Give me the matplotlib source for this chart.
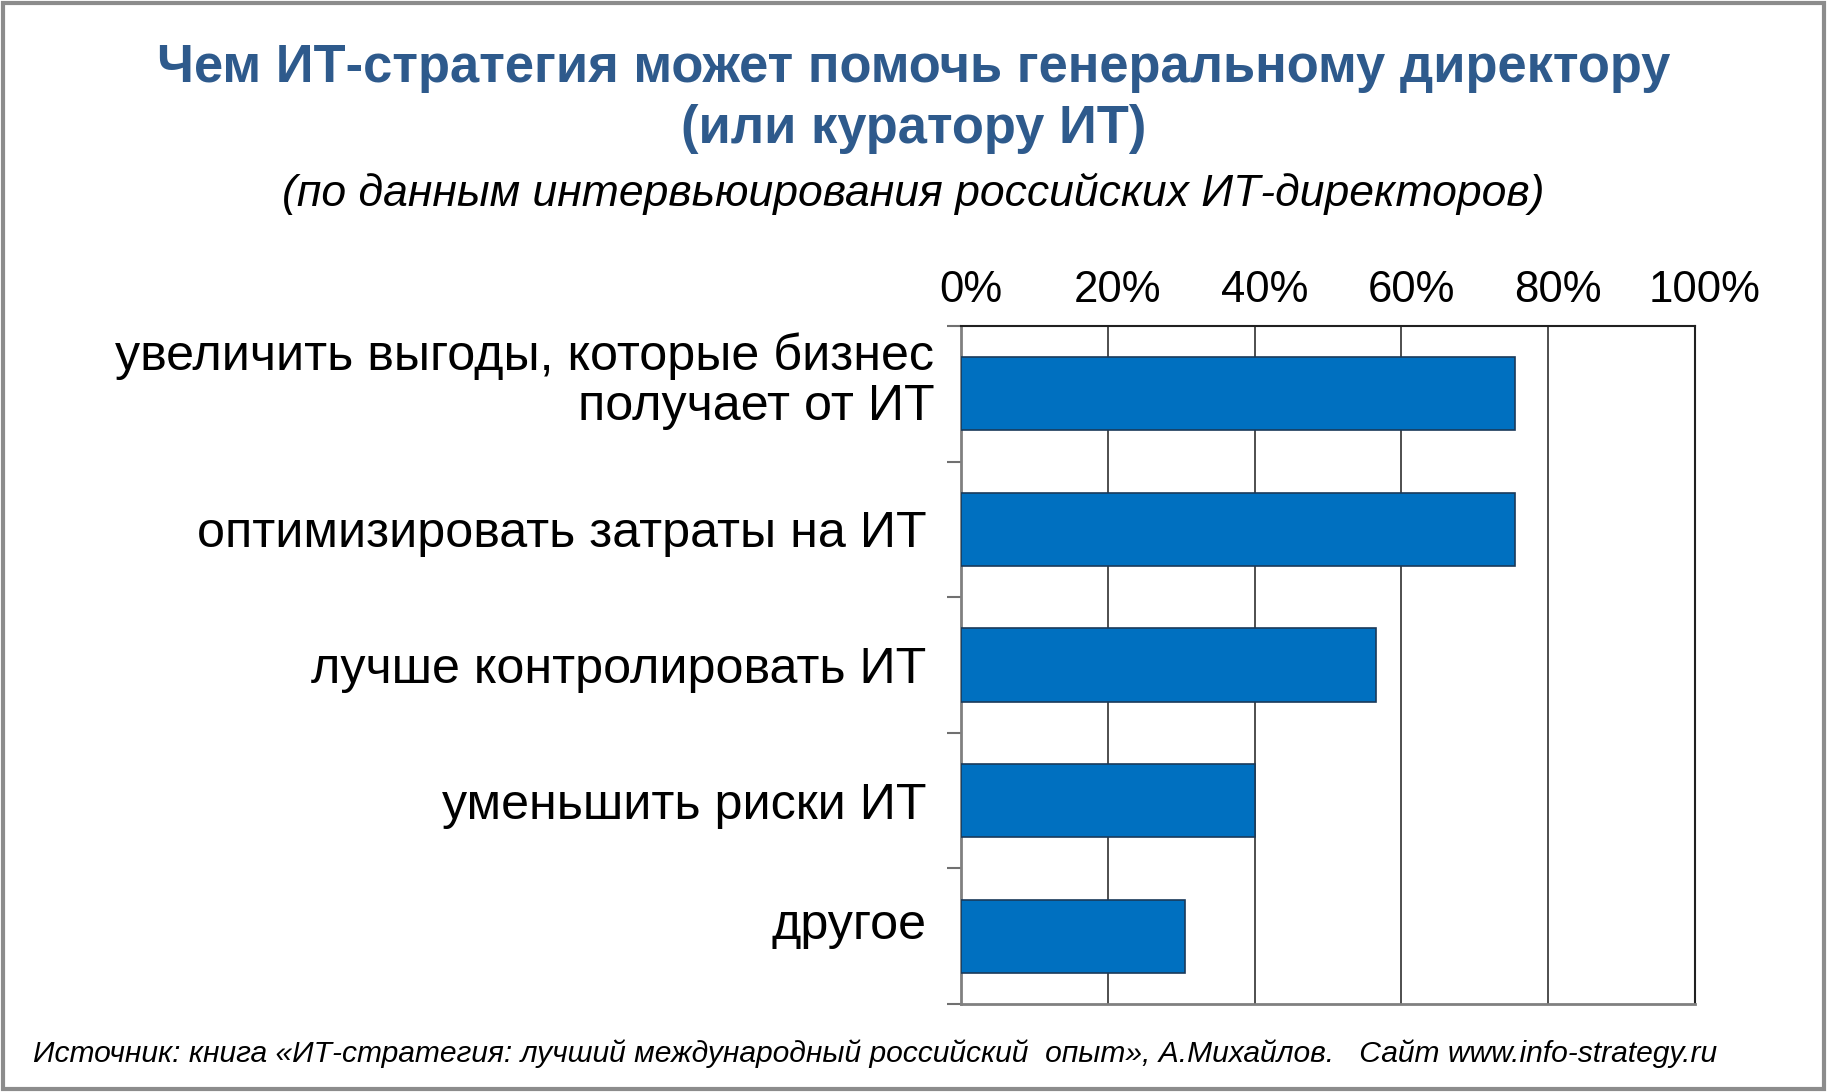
import matplotlib
matplotlib.use("Agg")
import matplotlib.pyplot as plt
import matplotlib.transforms as mtransforms
from matplotlib.patches import Rectangle
import numpy as np

categories = [
    "увеличить выгоды, которые бизнес\nполучает от ИТ",
    "оптимизировать затраты на ИТ",
    "лучше контролировать ИТ",
    "уменьшить риски ИТ",
    "другое",
]
values = [75.5, 75.5, 56.5, 40.0, 30.5]
xticks = [0, 20, 40, 60, 80, 100]
xtick_labels = ["0%", "20%", "40%", "60%", "80%", "100%"]

title = "Чем ИТ-стратегия может помочь генеральному директору\n(или куратору ИТ)"
subtitle = "(по данным интервьюирования российских ИТ-директоров)"
footer = "Источник: книга «ИТ-стратегия: лучший международный российский  опыт», А.Михайлов.   Сайт www.info-strategy.ru"

plt.rcParams['font.family'] = ['Liberation Sans', 'DejaVu Sans']

W, H = 1827, 1092
fig = plt.figure(figsize=(W / 100, H / 100), dpi=100)
fig.patch.set_facecolor("white")

# frame around the picture
fig.add_artist(Rectangle((3 / W, 3 / H), 1 - 6 / W, 1 - 6 / H, transform=fig.transFigure,
                         fill=False, edgecolor="#8c8c8c", linewidth=3))

left, right, top, bottom = 961, 1695, 326, 1004
ax = fig.add_axes([left / W, 1 - bottom / H, (right - left) / W, (bottom - top) / H])

y = np.arange(len(categories))
ax.barh(y, values, height=0.54, color="#0070C0", edgecolor="#1a3a5a", linewidth=1.2, zorder=3)

ax.set_xlim(0, 100)
ax.set_ylim(len(categories) - 0.5, -0.5)

# grid
for xv in xticks[1:-1]:
    ax.axvline(xv, color="#404040", linewidth=1.3, zorder=1)

ax.xaxis.tick_top()
ax.set_xticks(xticks)
ax.set_xticklabels(xtick_labels, fontsize=31.5)
ax.tick_params(axis="x", length=0, pad=11)
offset = mtransforms.ScaledTranslation(10 / 100, 0, fig.dpi_scale_trans)
for lab in ax.get_xticklabels():
    lab.set_transform(lab.get_transform() + offset)

# y ticks at category boundaries, labels at centers
ax.set_yticks(np.arange(-0.5, len(categories), 1.0))
ax.set_yticklabels([])
ax.tick_params(axis="y", which="major", length=10, width=1.5, color="#707070", direction="out")
ax.set_yticks(y, minor=True)
ax.set_yticklabels(categories, minor=True, fontsize=36.2, linespacing=1.13)
ax.tick_params(axis="y", which="minor", length=0, pad=25)
ylabs = ax.get_yticklabels(minor=True)
first_off = mtransforms.ScaledTranslation(8 / 100, 20 / 100, fig.dpi_scale_trans)
ylabs[0].set_transform(ylabs[0].get_transform() + first_off)
last_off = mtransforms.ScaledTranslation(0, 15 / 100, fig.dpi_scale_trans)
ylabs[-1].set_transform(ylabs[-1].get_transform() + last_off)

for s in ["left", "bottom"]:
    ax.spines[s].set_color("#808080")
    ax.spines[s].set_linewidth(2)
for s in ["top", "right"]:
    ax.spines[s].set_color("#202020")
    ax.spines[s].set_linewidth(1.5)

fig.text(0.5, 1 - 98.5 / H, title, ha="center", va="center", fontsize=37.8, fontweight="bold",
         color="#2E5A8C", linespacing=1.3)
fig.text(0.5, 1 - 194 / H, subtitle, ha="center", va="center", fontsize=32, style="italic",
         color="#000000")
fig.text(33 / W, 1 - 1053.5 / H, footer, ha="left", va="center", fontsize=21.6, style="italic",
         color="#000000")

fig.savefig("out.png", dpi=100, facecolor="white")
